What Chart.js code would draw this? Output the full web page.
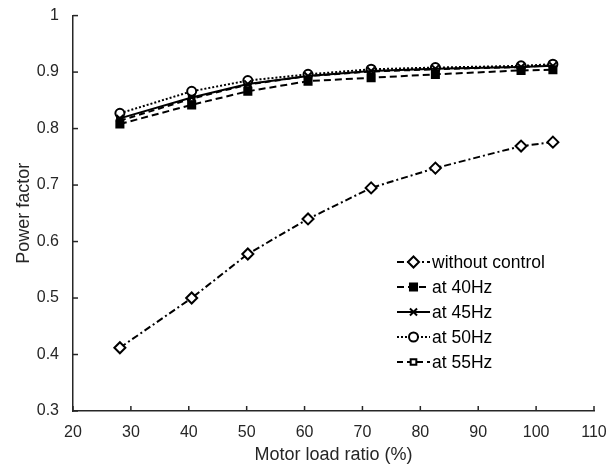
<!DOCTYPE html>
<html>
<head>
<meta charset="utf-8">
<script src="https://cdn.jsdelivr.net/npm/chart.js@4/dist/chart.umd.min.js"></script>
<style>
  body { margin: 0; background: #fff; }
  #wrap { width: 613px; height: 468px; }
</style>
</head>
<body>
<div id="wrap"><canvas id="pfChart" width="613" height="468"></canvas></div>
<script>
// ── DATA ─────────────────────────────────────────────
const loadRatio = [28.1, 40.5, 50.2, 60.6, 71.5, 82.6, 97.4, 102.9];
const withoutControl = [0.412, 0.500, 0.578, 0.640, 0.695, 0.730, 0.769, 0.776];
const at40Hz = [0.808, 0.842, 0.866, 0.884, 0.890, 0.896, 0.903, 0.904];
const at45Hz = [0.818, 0.855, 0.879, 0.893, 0.902, 0.906, 0.909, 0.911];
const at50Hz = [0.827, 0.866, 0.885, 0.896, 0.905, 0.908, 0.911, 0.914];
const at55Hz = [0.814, 0.853, 0.878, 0.893, 0.901, 0.905, 0.909, 0.912];
const seriesNames = ['without control', 'at 40Hz', 'at 45Hz', 'at 50Hz', 'at 55Hz'];
const xTicks = [20, 30, 40, 50, 60, 70, 80, 90, 100, 110];
const yTicks = [0.3, 0.4, 0.5, 0.6, 0.7, 0.8, 0.9, 1];

const FONT = "'Liberation Sans', Arial, sans-serif";
const INK = '#000';

// ── SERIES STYLES ────────────────────────────────────
const styles = [
    { dash: [7, 3, 2, 3], pointStyle: 'rectRot', fill: '#fff', radius: 5.5 },
    { dash: [7, 4], pointStyle: 'rect', fill: INK, radius: 5 },
    { dash: [], pointStyle: 'crossRot', fill: INK, radius: 5 },
    { dash: [2, 2], pointStyle: 'circle', fill: '#fff', radius: 4.5 },
    { dash: [6, 4], pointStyle: 'rect', fill: '#fff', radius: 4 }
];
const values = [withoutControl, at40Hz, at45Hz, at50Hz, at55Hz];

const datasets = values.map((vals, i) => ({
    label: seriesNames[i],
    data: vals.map((v, k) => ({ x: loadRatio[k], y: v })),
    borderColor: INK, backgroundColor: styles[i].fill,
    borderWidth: 2, borderDash: styles[i].dash,
    pointStyle: styles[i].pointStyle, pointRadius: styles[i].radius,
    pointBorderWidth: 2, pointBorderColor: INK, pointBackgroundColor: styles[i].fill,
    tension: 0
}));

// ── INWARD TICKS + LEGEND ────────────────────────────
const extras = {
    id: 'extras',
    afterDraw(chart) {
        const ctx = chart.ctx, xs = chart.scales.x, ys = chart.scales.y, a = chart.chartArea;
        ctx.save();
        ctx.strokeStyle = '#262626'; ctx.lineWidth = 1.5; ctx.setLineDash([]);
        xTicks.forEach(t => { const px = xs.getPixelForValue(t); ctx.beginPath(); ctx.moveTo(px, a.bottom); ctx.lineTo(px, a.bottom - 5); ctx.stroke(); });
        yTicks.forEach(t => { const py = ys.getPixelForValue(t); ctx.beginPath(); ctx.moveTo(a.left, py); ctx.lineTo(a.left + 5, py); ctx.stroke(); });

        // legend
        const lx = 397, ly = 262, gap = 25, len = 33;
        ctx.font = '17.5px ' + FONT; ctx.textBaseline = 'middle'; ctx.fillStyle = INK;
        seriesNames.forEach((name, i) => {
            const y = ly + i * gap, st = styles[i];
            ctx.strokeStyle = INK; ctx.lineWidth = 2; ctx.setLineDash(st.dash);
            ctx.beginPath(); ctx.moveTo(lx, y); ctx.lineTo(lx + len, y); ctx.stroke();
            ctx.setLineDash([]);
            ctx.fillStyle = st.fill;
            Chart.helpers.drawPoint(ctx, { pointStyle: st.pointStyle, radius: st.radius, rotation: 0, borderWidth: 2 }, lx + len / 2, y);
            ctx.fillStyle = INK;
            ctx.fillText(name, lx + len + 2, y + 1);
        });
        ctx.restore();
    }
};

// ── CHART.JS ─────────────────────────────────────────
new Chart(document.getElementById('pfChart'), {
    type: 'line',
    data: { datasets: datasets },
    options: {
        responsive: false, animation: false,
        layout: { padding: { top: 14, right: 19, left: 0, bottom: 0 } },
        plugins: { legend: { display: false }, tooltip: { enabled: false } },
        scales: {
            x: {
                type: 'linear', min: 20, max: 110,
                afterBuildTicks: s => { s.ticks = xTicks.map(v => ({ value: v })); },
                afterFit: s => { s.height = 57; },
                grid: { display: false },
                border: { display: true, color: '#262626', width: 1.5 },
                ticks: { color: '#262626', font: { family: FONT, size: 16 }, padding: 4, maxRotation: 0 },
                title: { display: true, text: 'Motor load ratio (%)', color: '#262626', font: { family: FONT, size: 18 }, padding: { top: 0, bottom: 2 } }
            },
            y: {
                type: 'linear', min: 0.3, max: 1,
                afterBuildTicks: s => { s.ticks = yTicks.map(v => ({ value: v })); },
                afterFit: s => { s.width = 73; },
                grid: { display: false },
                border: { display: true, color: '#262626', width: 1.5 },
                ticks: { color: '#262626', font: { family: FONT, size: 16 }, padding: 6, callback: v => String(v) },
                title: { display: true, text: 'Power factor', color: '#262626', font: { family: FONT, size: 18 }, padding: { top: 13, bottom: 4 } }
            }
        }
    },
    plugins: [extras]
});
</script>
</body>
</html>
